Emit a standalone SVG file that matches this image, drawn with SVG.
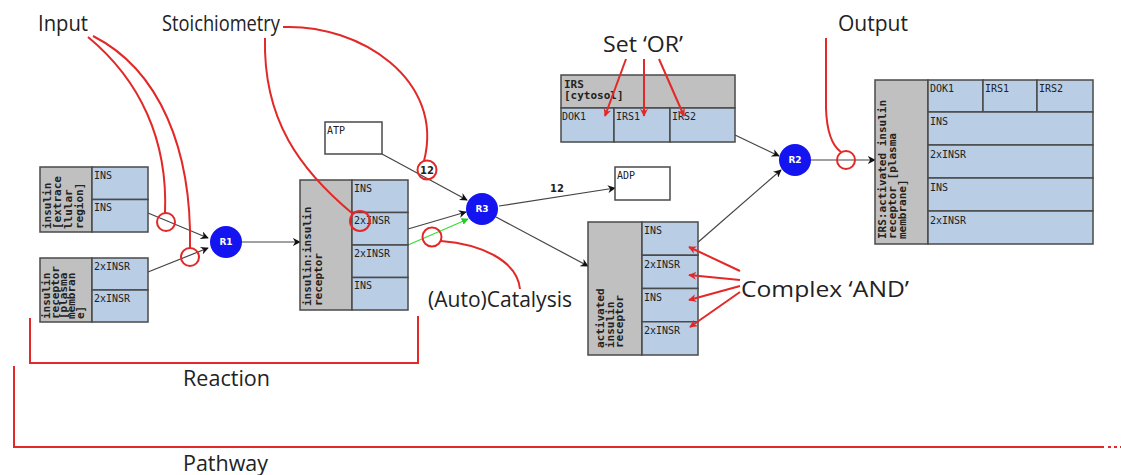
<svg xmlns="http://www.w3.org/2000/svg" width="1121" height="475" viewBox="0 0 1121 475">
<defs>
<style>
.g{fill:#c0c0c0;stroke:#4a4a4a;stroke-width:1.5}
.b{fill:#b9cde5;stroke:#4a4a4a;stroke-width:1.5}
.w{fill:#fff;stroke:#4a4a4a;stroke-width:1.5}
.c{font-family:"DejaVu Sans Mono",monospace;font-size:10px;fill:#222}
.l{font-family:"DejaVu Sans Mono",monospace;font-size:11px;font-weight:bold;fill:#222}
.r{fill:#1414f0}
.rt{font-family:"DejaVu Sans",sans-serif;font-size:9px;font-weight:bold;fill:#fff;text-anchor:middle}
.e{stroke:#444;stroke-width:1.2;fill:none;marker-end:url(#ah)}
.n{font-family:"DejaVu Sans",sans-serif;font-size:10px;font-weight:bold;fill:#222;text-anchor:middle}
.a{stroke:#e32828;stroke-width:2;fill:none}
.ac{stroke:#e32828;stroke-width:2;fill:none}
.t{font-family:"Open Sans",sans-serif;font-size:21px;fill:#222}
</style>
<marker id="ah" viewBox="0 0 10 10" refX="9" refY="5" markerWidth="8" markerHeight="8" orient="auto" markerUnits="userSpaceOnUse"><path d="M0,0 L10,5 L0,10 L3,5 z" fill="#111"/></marker>
<marker id="gh" viewBox="0 0 10 10" refX="9" refY="5" markerWidth="7" markerHeight="7" orient="auto" markerUnits="userSpaceOnUse"><path d="M0,0 L10,5 L0,10 z" fill="#22cc22"/></marker>
<marker id="rh" viewBox="0 0 10 10" refX="9" refY="5" markerWidth="8" markerHeight="8" orient="auto" markerUnits="userSpaceOnUse"><path d="M0,0 L10,5 L0,10 L3,5 z" fill="#e32828"/></marker>
</defs>
<rect width="1121" height="475" fill="#fff"/>

<g id="connectors">
<line class="e" x1="148" y1="213" x2="208" y2="238"/>
<line class="e" x1="148" y1="272" x2="208" y2="248"/>
<line class="e" x1="242" y1="242" x2="300" y2="242"/>
<line class="e" x1="382" y1="154" x2="467" y2="200"/>
<line class="e" x1="408" y1="229" x2="466" y2="212"/>
<line x1="408" y1="245" x2="468" y2="219" stroke="#33dd33" stroke-width="1.2" marker-end="url(#gh)"/>
<line class="e" x1="499" y1="206" x2="615" y2="188"/>
<line class="e" x1="496" y1="217" x2="588" y2="266"/>
<line class="e" x1="735" y1="135" x2="779" y2="156"/>
<line class="e" x1="696" y1="244" x2="781" y2="170"/>
<line class="e" x1="811" y1="160" x2="875" y2="160"/>
<text class="n" x="427" y="174">12</text>
<text class="n" x="557" y="192">12</text>
</g>

<g id="insulin-extracellular">
<rect class="g" x="40" y="167" width="52" height="65"/>
<rect class="b" x="92" y="167" width="56" height="32.5"/>
<rect class="b" x="92" y="199.5" width="56" height="32.5"/>
<text class="c" x="94" y="179">INS</text>
<text class="c" x="94" y="211">INS</text>
<text class="l" transform="translate(51,229) rotate(-90)">insulin</text>
<text class="l" transform="translate(61,229) rotate(-90)">[extrace</text>
<text class="l" transform="translate(72,229) rotate(-90)">llular</text>
<text class="l" transform="translate(83,229) rotate(-90)">region]</text>
</g>

<g id="insulin-receptor">
<rect class="g" x="40" y="258" width="52" height="64"/>
<rect class="b" x="92" y="258" width="56" height="32"/>
<rect class="b" x="92" y="290" width="56" height="32"/>
<text class="c" x="94" y="270">2xINSR</text>
<text class="c" x="94" y="302">2xINSR</text>
<text class="l" transform="translate(50,319) rotate(-90)">insulin</text>
<text class="l" transform="translate(59,319) rotate(-90)">receptor</text>
<text class="l" transform="translate(67,319) rotate(-90)">[plasma</text>
<text class="l" transform="translate(75,319) rotate(-90)">membran</text>
<text class="l" transform="translate(84,319) rotate(-90)">e]</text>
</g>

<g id="R1"><circle class="r" cx="226" cy="242" r="16"/><text class="rt" x="226" y="245">R1</text></g>

<g id="insulin-insulin-receptor">
<rect class="g" x="300" y="180" width="52" height="130"/>
<rect class="b" x="352" y="180" width="56" height="32.5"/>
<rect class="b" x="352" y="212.5" width="56" height="32.5"/>
<rect class="b" x="352" y="245" width="56" height="32.5"/>
<rect class="b" x="352" y="277.5" width="56" height="32.5"/>
<text class="c" x="354" y="192">INS</text>
<text class="c" x="354" y="224">2xINSR</text>
<text class="c" x="354" y="257">2xINSR</text>
<text class="c" x="354" y="289">INS</text>
<text class="l" transform="translate(311,306) rotate(-90)">insulin:insulin</text>
<text class="l" transform="translate(322,306) rotate(-90)">receptor</text>
</g>

<g id="ATP"><rect class="w" x="325" y="122" width="57" height="32"/><text class="c" x="327" y="134">ATP</text></g>
<g id="ADP"><rect class="w" x="615" y="167" width="55" height="33"/><text class="c" x="617" y="179">ADP</text></g>

<g id="R3"><circle class="r" cx="482" cy="209" r="16"/><text class="rt" x="482" y="212">R3</text></g>

<g id="IRS-cytosol">
<rect class="g" x="561" y="75" width="174" height="33"/>
<rect class="b" x="561" y="108" width="53" height="34"/>
<rect class="b" x="614" y="108" width="56" height="34"/>
<rect class="b" x="670" y="108" width="65" height="34"/>
<text class="l" x="564" y="88">IRS</text>
<text class="l" x="564" y="99">[cytosol]</text>
<text class="c" x="562" y="120">DOK1</text>
<text class="c" x="616" y="120">IRS1</text>
<text class="c" x="672" y="120">IRS2</text>
</g>

<g id="activated-insulin-receptor">
<rect class="g" x="588" y="222" width="54" height="133"/>
<rect class="b" x="642" y="222" width="56" height="33.25"/>
<rect class="b" x="642" y="255.25" width="56" height="33.25"/>
<rect class="b" x="642" y="288.5" width="56" height="33.25"/>
<rect class="b" x="642" y="321.75" width="56" height="33.25"/>
<text class="c" x="644" y="234">INS</text>
<text class="c" x="644" y="268">2xINSR</text>
<text class="c" x="644" y="301">INS</text>
<text class="c" x="644" y="334">2xINSR</text>
<text class="l" transform="translate(604,348) rotate(-90)">activated</text>
<text class="l" transform="translate(614,348) rotate(-90)">insulin</text>
<text class="l" transform="translate(623,348) rotate(-90)">receptor</text>
</g>

<g id="R2"><circle class="r" cx="795" cy="160" r="16"/><text class="rt" x="795" y="163">R2</text></g>

<g id="IRS-activated-insulin-receptor">
<rect class="g" x="875" y="80" width="53" height="164"/>
<rect class="b" x="928" y="80" width="55" height="32"/>
<rect class="b" x="983" y="80" width="54" height="32"/>
<rect class="b" x="1037" y="80" width="56" height="32"/>
<rect class="b" x="928" y="112" width="165" height="33"/>
<rect class="b" x="928" y="145" width="165" height="33"/>
<rect class="b" x="928" y="178" width="165" height="33"/>
<rect class="b" x="928" y="211" width="165" height="33"/>
<text class="c" x="930" y="92">DOK1</text>
<text class="c" x="985" y="92">IRS1</text>
<text class="c" x="1039" y="92">IRS2</text>
<text class="c" x="930" y="125">INS</text>
<text class="c" x="930" y="158">2xINSR</text>
<text class="c" x="930" y="191">INS</text>
<text class="c" x="930" y="224">2xINSR</text>
<text class="l" transform="translate(886,239) rotate(-90)">IRS:activated insulin</text>
<text class="l" transform="translate(896,239) rotate(-90)">receptor [plasma</text>
<text class="l" transform="translate(906,239) rotate(-90)">membrane]</text>
</g>

<g id="annotations">
<text class="t" x="38" y="31" textLength="50" lengthAdjust="spacingAndGlyphs">Input</text>
<path class="a" d="M88,37 C140,80 168,140 165,213"/>
<path class="a" d="M93,36 C160,70 192,150 190,248"/>
<circle class="ac" cx="166" cy="222" r="9"/>
<circle class="ac" cx="190" cy="257" r="9"/>

<text class="t" x="162" y="31" textLength="118" lengthAdjust="spacingAndGlyphs">Stoichiometry</text>
<path class="a" d="M265,38 C263,120 300,170 353,214"/>
<path class="a" d="M283,27 C360,24 445,80 424,161"/>
<circle class="ac" cx="360" cy="221" r="10"/>
<circle class="ac" cx="427" cy="170" r="9.5"/>

<text class="t" x="603" y="52" textLength="80" lengthAdjust="spacingAndGlyphs">Set ‘OR’</text>
<line class="a" x1="626" y1="59" x2="605" y2="116" marker-end="url(#rh)"/>
<line class="a" x1="644" y1="59" x2="644" y2="116" marker-end="url(#rh)"/>
<line class="a" x1="659" y1="59" x2="684" y2="116" marker-end="url(#rh)"/>

<text class="t" x="838" y="31" textLength="70" lengthAdjust="spacingAndGlyphs">Output</text>
<path class="a" d="M826,38 L826,108 Q827,142 841,152"/>
<circle class="ac" cx="846" cy="160" r="9"/>

<text class="t" x="428" y="307" textLength="144" lengthAdjust="spacingAndGlyphs">(Auto)Catalysis</text>
<path class="a" d="M441,241 C480,244 517,260 520,289"/>
<circle class="ac" cx="432" cy="237" r="9.5"/>

<text class="t" x="741" y="297" textLength="168" lengthAdjust="spacingAndGlyphs">Complex ‘AND’</text>
<line class="a" x1="740" y1="271" x2="689" y2="247" marker-end="url(#rh)"/>
<line class="a" x1="740" y1="280" x2="689" y2="275" marker-end="url(#rh)"/>
<line class="a" x1="740" y1="286" x2="689" y2="300" marker-end="url(#rh)"/>
<line class="a" x1="740" y1="292" x2="690" y2="327" marker-end="url(#rh)"/>

<path class="a" d="M30,318 L30,363 L418,363 L418,316"/>
<text class="t" x="183" y="386" textLength="87" lengthAdjust="spacingAndGlyphs">Reaction</text>
<path class="a" d="M14,366 L14,447 L1104,447"/>
<path class="a" d="M1108,447 L1121,447" stroke-dasharray="3,3"/>
<text class="t" x="183" y="471" textLength="85" lengthAdjust="spacingAndGlyphs">Pathway</text>
</g>
</svg>
